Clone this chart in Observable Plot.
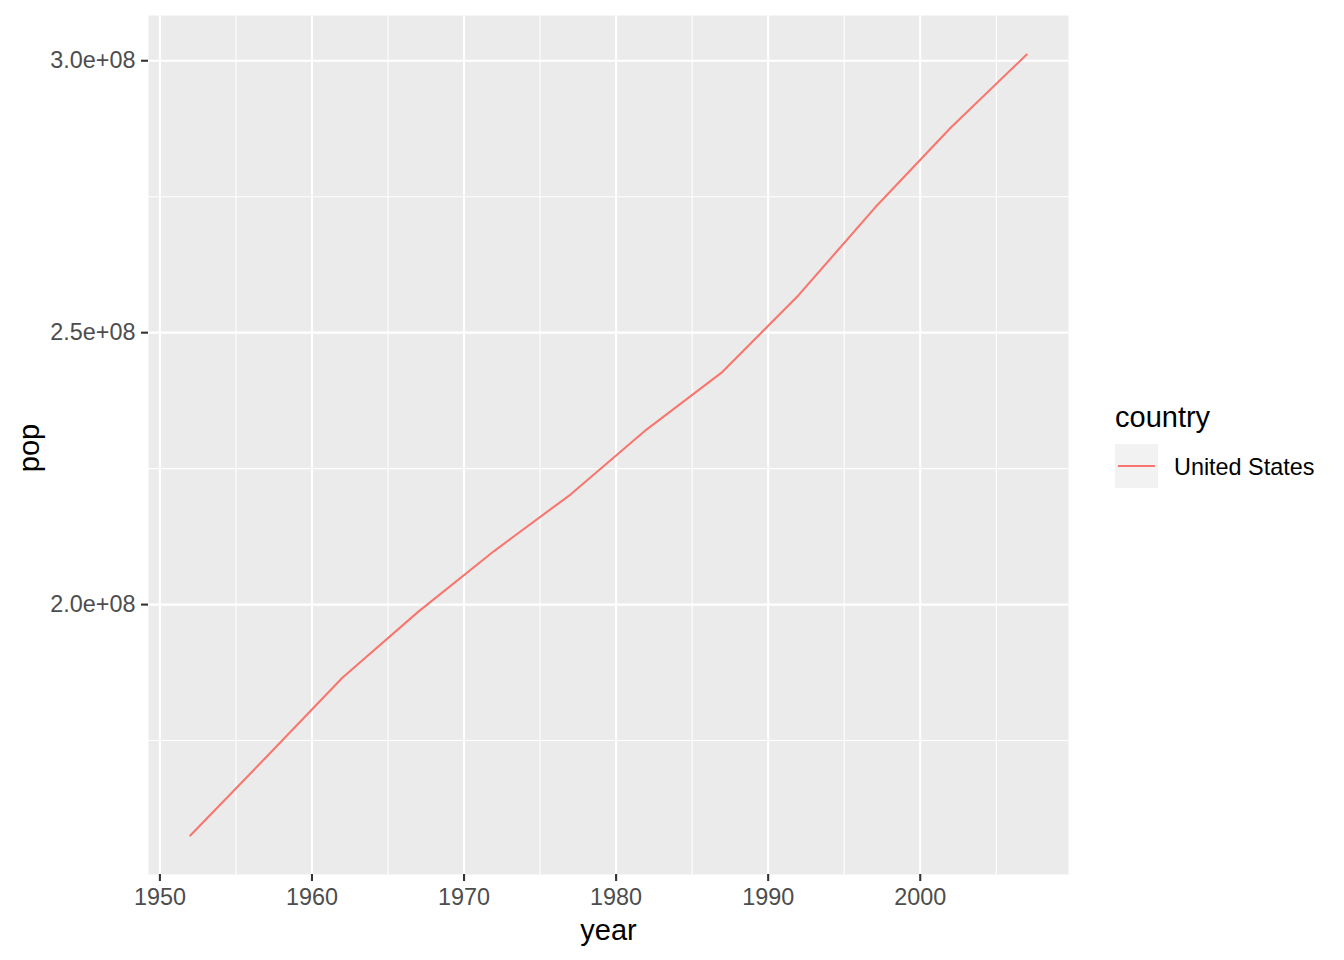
<!DOCTYPE html>
<html>
<head>
<meta charset="utf-8">
<script src="https://cdn.jsdelivr.net/npm/d3@7"></script>
<script src="https://cdn.jsdelivr.net/npm/@observablehq/plot@0.6"></script>
<style>
  html, body { margin: 0; padding: 0; background: #fff; }
  #wrap { position: relative; width: 1344px; height: 960px; font-family: "Liberation Sans", Arial, Helvetica, sans-serif; }
  #legend .title { position: absolute; left: 1115px; top: 403px; font-size: 29px; line-height: 29px; color: #000; white-space: nowrap; }
  #legend .key { position: absolute; left: 1115px; top: 444px; width: 43px; height: 44px; background: #F2F2F2; }
  #legend .key span { position: absolute; left: 3px; right: 3px; top: 21px; height: 2.2px; background: #F8766D; }
  #legend .lab { position: absolute; left: 1174px; top: 453px; font-size: 23.4px; line-height: 29px; color: #000; white-space: nowrap; }
  svg g[aria-label$="tick label"] { font-size: 23.4px; }
</style>
</head>
<body>
<div id="wrap"></div>
<script>
const years = [1952, 1957, 1962, 1967, 1972, 1977, 1982, 1987, 1992, 1997, 2002, 2007];
const pop = [157553000, 171984000, 186538000, 198712000, 209896000, 220239000, 232187835, 242803533, 256894189, 272911760, 287675526, 301139947];
const country = "United States";
const xMajor = [1950, 1960, 1970, 1980, 1990, 2000];
const xMinor = [1955, 1965, 1975, 1985, 1995, 2005];
const yMajor = [2.0e8, 2.5e8, 3.0e8];
const yMinor = [1.75e8, 2.25e8, 2.75e8];

const data = years.map((y, i) => ({year: y, pop: pop[i], country}));
const xSpan = d3.max(years) - d3.min(years);
const ySpan = d3.max(pop) - d3.min(pop);
const xDom = [d3.min(years) - 0.05 * xSpan, d3.max(years) + 0.05 * xSpan];
const yDom = [d3.min(pop) - 0.05 * ySpan, d3.max(pop) + 0.05 * ySpan];

const fmt = d => d.toExponential(1).replace(/e\+(\d)$/, "e+0$1");

const chart = Plot.plot({
  width: 1344,
  height: 960,
  marginLeft: 148,
  marginRight: 276,
  marginTop: 15,
  marginBottom: 86,
  style: {fontFamily: '"Liberation Sans", Arial, Helvetica, sans-serif', background: "#fff"},
  x: {domain: xDom},
  y: {domain: yDom},
  marks: [
    Plot.frame({fill: "#EBEBEB", stroke: null}),
    Plot.gridX(xMinor, {stroke: "#fff", strokeOpacity: 1, strokeWidth: 1.1}),
    Plot.gridY(yMinor, {stroke: "#fff", strokeOpacity: 1, strokeWidth: 1.1}),
    Plot.gridX(xMajor, {stroke: "#fff", strokeOpacity: 1, strokeWidth: 2.1}),
    Plot.gridY(yMajor, {stroke: "#fff", strokeOpacity: 1, strokeWidth: 2.1}),
    Plot.line(data, {x: "year", y: "pop", stroke: "#F8766D", strokeWidth: 2.1}),
    Plot.axisX(xMajor, {tickSize: 7, tickPadding: 7, color: "#4D4D4D", stroke: "#333", strokeWidth: 2.1, tickFormat: d => String(d), label: null}),
    Plot.axisY(yMajor, {tickSize: 7, tickPadding: 6, color: "#4D4D4D", stroke: "#333", strokeWidth: 2.1, tickFormat: fmt, label: null}),
    Plot.text(["year"], {frameAnchor: "bottom", dy: 65, fontSize: 29, fill: "#000"}),
    Plot.text(["pop"], {frameAnchor: "left", textAnchor: "middle", dx: -119, dy: 3, rotate: -90, fontSize: 29, fill: "#000"})
  ]
});
chart.querySelectorAll("text").forEach(t => t.style.fill = t.getAttribute("fill"));
document.getElementById("wrap").appendChild(chart);

const lg = document.createElement("div");
lg.id = "legend";
lg.innerHTML = `<div class="title">country</div><div class="key"><span></span></div><div class="lab">${country}</div>`;
document.getElementById("wrap").appendChild(lg);
</script>
</body>
</html>
